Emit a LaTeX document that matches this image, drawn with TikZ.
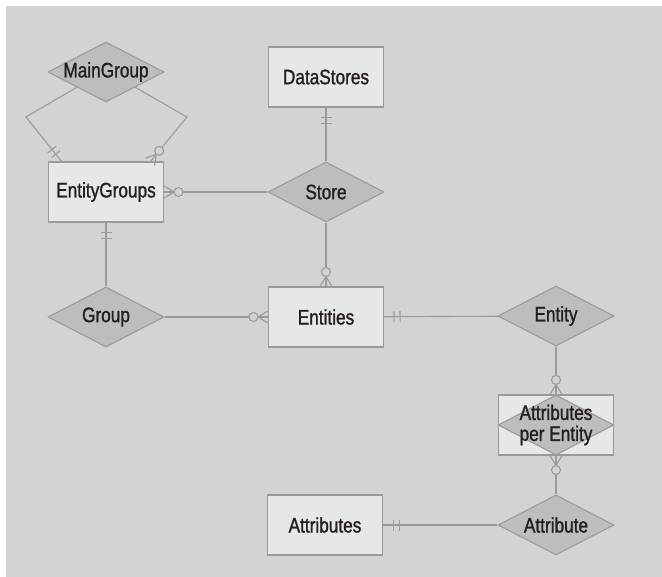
\documentclass[tikz,border=0pt]{standalone}
\usepackage{fontspec}
\setmainfont{Liberation Sans}[FakeStretch=0.82, FakeBold=1.2]
\usetikzlibrary{shapes.geometric, decorations.markings}
\definecolor{bggray}{HTML}{D2D3D5}
\definecolor{boxgray}{HTML}{E6E7E8}
\definecolor{relgray}{HTML}{BCBDBF}
\definecolor{linegray}{HTML}{9A9B9D}
\definecolor{inkgray}{HTML}{231F20}
\tikzset{
  ent/.style = {draw=linegray, fill=boxgray, line width=1.1pt, minimum width=115pt, minimum height=60pt, inner sep=0pt},
  rel/.style = {diamond, draw=linegray, fill=relgray, line width=1.1pt, minimum width=116pt, minimum height=60pt, inner sep=0pt},
  conn/.style = {draw=linegray, line width=1.1pt},
  one end/.style = {postaction={decorate, decoration={markings,
      mark=at position -10pt with {\draw[conn] (0,-5.5pt) -- (0,5.5pt);},
      mark=at position -16pt with {\draw[conn] (0,-5.5pt) -- (0,5.5pt);}}}},
  many end/.style = {postaction={decorate, decoration={markings,
      mark=at position -10pt with {\draw[conn] (10pt,6pt) -- (0,0) -- (10pt,-6pt);
        \draw[conn, fill=bggray] (-4.5pt,0) circle (4.5pt);}}}}
}

\begin{document}
\begin{tikzpicture}[x=1pt, y=-1pt, font=\fontsize{21}{21}\selectfont, text=inkgray]
  \useasboundingbox (0,0) rectangle (662,577);
  \fill[bggray] (6,6) rectangle (662,577);
%% entities
  \node[ent] (entitygroups) at (106,192) {EntityGroups};
  \node[ent] (datastores) at (326,77) {DataStores};
  \node[ent] (entities) at (326,317) {Entities};
  \node[ent] (attrent) at (556,425) {};
  \node[ent] (attributes) at (325,525) {Attributes};
%% relationships
  \node[rel, label=center:MainGroup] (maingroup) at (106,72) {};
  \node[rel, label=center:Store] (store) at (326,192) {};
  \node[rel, label=center:Group] (group) at (106,317) {};
  \node[rel, label=center:Entity] (entity) at (556,316) {};
  \node[rel, label={[align=center]center:Attributes\\per Entity}] (attrdia) at (556,425) {};
  \node[rel, label=center:Attribute] (attribute) at (556,525) {};
%% corners of the MainGroup loop
  \coordinate (mgleft) at (26,117);
  \coordinate (mgright) at (187,117);
  \coordinate (egleft) at (62,162);
  \coordinate (egright) at (150,162);
%% connectors
  \draw[conn, one end] (maingroup.south west) -- (mgleft) -- (egleft);
  \draw[conn, many end] (maingroup.south east) -- (mgright) -- (egright);
  \draw[conn, many end] (store) -- (entitygroups);
  \draw[conn, one end] (store) -- (datastores);
  \draw[conn, many end] (store) -- (entities);
  \draw[conn, one end] (group) -- (entitygroups);
  \draw[conn, many end] (group) -- (entities);
  \draw[conn, one end] (entity) -- (entities);
  \draw[conn, many end] (entity) -- (attrent);
  \draw[conn, many end] (attribute) -- (attrent);
  \draw[conn, one end] (attribute) -- (attributes);
\end{tikzpicture}
\end{document}
